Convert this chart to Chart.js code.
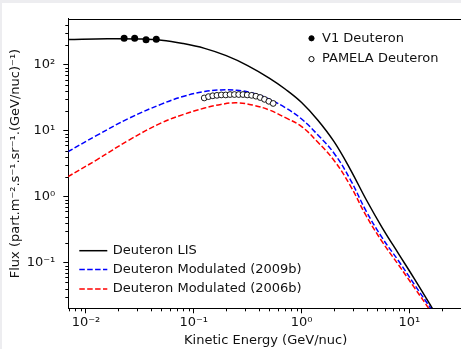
<!DOCTYPE html>
<html>
<head>
<meta charset="utf-8">
<title>Deuteron flux</title>
<script src="https://cdn.jsdelivr.net/npm/chart.js@4.4.1/dist/chart.umd.min.js"></script>
<style>
  html, body { margin: 0; padding: 0; background: #ededf0; overflow: hidden; }
  #wrap { position: absolute; left: 2px; top: 3px; width: 470px; height: 346px; background: #fff; }
</style>
</head>
<body>
<div id="wrap"><canvas id="fluxChart" width="470" height="346"></canvas></div>
<script>
// Kinetic energy (GeV/nuc) and flux values
const lisEnergy = [0.00676, 0.0158, 0.0316, 0.0501, 0.0794, 0.126, 0.2, 0.316, 0.501, 0.708, 1, 1.41, 2.0, 2.82, 3.98, 5.62, 7.94, 11.2, 15.85, 17.8];
const lisFlux = [243, 249, 247, 237, 211, 178, 138, 97.7, 63.1, 42.7, 26.9, 14.6, 6.84, 2.63, 0.90, 0.335, 0.136, 0.0558, 0.0219, 0.0158];

const modEnergy = [0.00676, 0.0126, 0.0251, 0.0501, 0.0794, 0.126, 0.178, 0.251, 0.355, 0.501, 0.708, 1, 1.41, 2.0, 2.82, 3.98, 5.62, 7.94, 11.2, 15.85, 17.8];
const mod2009Flux = [4.79, 8.51, 15.5, 25.4, 33.1, 39.4, 41.7, 41.2, 37.2, 30.2, 22.4, 15.1, 8.71, 4.57, 1.84, 0.60, 0.235, 0.106, 0.0458, 0.020, 0.0148];
const mod2006Flux = [2.0, 3.63, 7.24, 13.2, 17.6, 22.1, 25.1, 26.6, 24.5, 20.7, 15.8, 11.6, 6.76, 3.55, 1.49, 0.51, 0.205, 0.092, 0.041, 0.018, 0.0133];

const v1Energy = [0.0226, 0.0283, 0.0361, 0.0449];
const v1Flux = [253, 253, 240, 245];

const pamelaEnergy = [0.125, 0.137, 0.150, 0.164, 0.180, 0.198, 0.217, 0.238, 0.261, 0.286, 0.313, 0.344, 0.377, 0.413, 0.453, 0.497, 0.545];
const pamelaFlux = [31.5, 33, 34, 34.5, 35, 35, 35.5, 35.5, 35.5, 35.5, 35, 34.5, 33.5, 32, 30, 28, 26];

const xTicks = [0.01, 0.1, 1, 10];
const yTicks = [0.1, 1, 10, 100];

const FONT = 'DejaVu Sans';
const TEXT = '#111';

function pairs(xs, ys) {
    return xs.map((x, i) => ({ x: x, y: ys[i] }));
}

function pow10Label(v) {
    const sup = { '-': '\u207B', '0': '\u2070', '1': '\u00B9', '2': '\u00B2', '3': '\u00B3',
                  '4': '\u2074', '5': '\u2075', '6': '\u2076', '7': '\u2077', '8': '\u2078', '9': '\u2079' };
    const e = String(Math.round(Math.log10(v)));
    return '10' + e.split('').map(c => sup[c]).join('');
}

// top spine, minor ticks and the two legends
const extras = {
    id: 'extras',
    afterDraw(chart) {
        const ctx = chart.ctx;
        const a = chart.chartArea;
        const xs = chart.scales.x;
        const ys = chart.scales.y;
        ctx.save();
        ctx.strokeStyle = '#000';
        ctx.lineWidth = 1;
        ctx.beginPath();
        ctx.moveTo(a.left, Math.round(a.top) + 0.5);
        ctx.lineTo(a.right, Math.round(a.top) + 0.5);
        ctx.stroke();

        ctx.beginPath();
        for (let k = -3; k <= 2; k++) {
            for (let m = 2; m <= 9; m++) {
                const v = m * Math.pow(10, k);
                if (v > xs.min && v < xs.max) {
                    const p = Math.round(xs.getPixelForValue(v)) + 0.5;
                    ctx.moveTo(p, a.bottom);
                    ctx.lineTo(p, a.bottom + 3);
                }
                if (v > ys.min && v < ys.max) {
                    const p = Math.round(ys.getPixelForValue(v)) + 0.5;
                    ctx.moveTo(a.left, p);
                    ctx.lineTo(a.left - 3, p);
                }
            }
        }
        ctx.stroke();

        ctx.font = '13px "' + FONT + '"';
        ctx.textBaseline = 'middle';
        ctx.textAlign = 'left';
        ctx.fillStyle = TEXT;

        // line legend, lower left
        const lineRows = [-57.6, -38.8, -19.3];
        [0, 1, 2].forEach((di, i) => {
            const ds = chart.data.datasets[di];
            const y = a.bottom + lineRows[i];
            ctx.save();
            ctx.strokeStyle = ds.borderColor;
            ctx.lineWidth = ds.borderWidth;
            ctx.setLineDash(ds.borderDash || []);
            ctx.beginPath();
            ctx.moveTo(a.left + 11, y);
            ctx.lineTo(a.left + 39, y);
            ctx.stroke();
            ctx.restore();
            ctx.fillText(ds.label, a.left + 44.4, y);
        });

        // marker legend, upper right
        const markRows = [19.5, 40.3];
        [3, 4].forEach((di, i) => {
            const ds = chart.data.datasets[di];
            const y = a.top + markRows[i];
            ctx.beginPath();
            ctx.arc(a.left + 243.2, y, 2.6, 0, Math.PI * 2);
            ctx.fillStyle = ds.pointBackgroundColor;
            ctx.fill();
            ctx.strokeStyle = '#000';
            ctx.lineWidth = 1;
            ctx.stroke();
            ctx.fillStyle = TEXT;
            ctx.fillText(ds.label, a.left + 253.7, y);
        });
        ctx.restore();
    }
};

const ctx = document.getElementById('fluxChart').getContext('2d');
new Chart(ctx, {
    type: 'line',
    data: {
        datasets: [
            {
                label: 'Deuteron LIS',
                data: pairs(lisEnergy, lisFlux),
                borderColor: '#000',
                borderWidth: 1.5,
                pointRadius: 0,
                tension: 0.4,
                order: 5
            },
            {
                label: 'Deuteron Modulated (2009b)',
                data: pairs(modEnergy, mod2009Flux),
                borderColor: '#0000ff',
                borderWidth: 1.5,
                borderDash: [5.5, 2.4],
                pointRadius: 0,
                tension: 0.4,
                order: 4
            },
            {
                label: 'Deuteron Modulated (2006b)',
                data: pairs(modEnergy, mod2006Flux),
                borderColor: '#ff0000',
                borderWidth: 1.5,
                borderDash: [5.5, 2.4],
                pointRadius: 0,
                tension: 0.4,
                order: 3
            },
            {
                label: 'V1 Deuteron',
                data: pairs(v1Energy, v1Flux),
                showLine: false,
                pointRadius: 3.5,
                pointBackgroundColor: '#000',
                pointBorderColor: '#000',
                pointBorderWidth: 0,
                order: 1
            },
            {
                label: 'PAMELA Deuteron',
                data: pairs(pamelaEnergy, pamelaFlux),
                showLine: false,
                pointRadius: 2.9,
                pointBackgroundColor: '#fff',
                pointBorderColor: '#000',
                pointBorderWidth: 0.9,
                order: 2
            }
        ]
    },
    options: {
        responsive: false,
        animation: false,
        events: [],
        layout: { padding: { top: 12, right: 9, bottom: 0, left: 0 } },
        plugins: { legend: { display: false }, tooltip: { enabled: false } },
        scales: {
            x: {
                type: 'logarithmic',
                min: 0.00686,
                max: 31.4,
                afterBuildTicks: axis => { axis.ticks = xTicks.map(v => ({ value: v })); },
                afterFit: axis => { axis.height = 40.7; },
                ticks: {
                    autoSkip: false,
                    maxRotation: 0,
                    padding: 1.5,
                    color: TEXT,
                    font: { family: FONT, size: 13 },
                    callback: v => pow10Label(v)
                },
                grid: { drawOnChartArea: false, tickLength: 5, tickColor: '#000' },
                border: { color: '#000', width: 1 },
                title: {
                    display: true,
                    text: 'Kinetic Energy (GeV/nuc)',
                    color: TEXT,
                    font: { family: FONT, size: 13 },
                    padding: { top: 0, bottom: 1 }
                }
            },
            y: {
                type: 'logarithmic',
                min: 0.0203,
                max: 500,
                afterBuildTicks: axis => { axis.ticks = yTicks.map(v => ({ value: v })); },
                afterFit: axis => { axis.width = 66.3; },
                ticks: {
                    autoSkip: false,
                    padding: 8,
                    color: TEXT,
                    font: { family: FONT, size: 13 },
                    callback: v => pow10Label(v)
                },
                grid: { drawOnChartArea: false, tickLength: 5, tickColor: '#000' },
                border: { color: '#000', width: 1 },
                title: {
                    display: true,
                    text: 'Flux (part.m\u207B\u00B2.s\u207B\u00B9.sr\u207B\u00B9.(GeV/nuc)\u207B\u00B9)',
                    color: TEXT,
                    font: { family: FONT, size: 13 },
                    padding: { top: 6, bottom: 0 }
                }
            }
        }
    },
    plugins: [extras]
});
</script>
</body>
</html>
